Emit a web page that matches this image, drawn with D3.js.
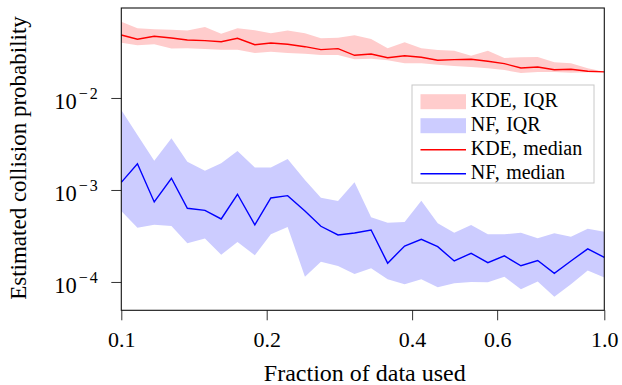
<!DOCTYPE html>
<html>
<head>
<meta charset="utf-8">
<script src="https://cdn.jsdelivr.net/npm/d3@7"></script>
<style>
  body { margin: 0; background: #fff; }
  svg { display: block; font-family: 'Liberation Serif', 'Times New Roman', serif; }
</style>
</head>
<body>
<div id="chart"></div>
<script>
// ---------- DATA ----------
const fraction = [0.1, 0.108, 0.117, 0.127, 0.137, 0.149, 0.161, 0.174, 0.189, 0.204,
  0.221, 0.24, 0.259, 0.281, 0.304, 0.329, 0.356, 0.386, 0.418, 0.452,
  0.489, 0.53, 0.574, 0.621, 0.672, 0.728, 0.788, 0.853, 0.924, 1.0];

const kdeMedian = [0.0484, 0.0435, 0.0469, 0.0449, 0.0427, 0.042, 0.0409, 0.0446, 0.0379, 0.0396,
  0.0384, 0.0361, 0.0335, 0.0344, 0.0291, 0.0301, 0.0274, 0.0288, 0.0277, 0.0257,
  0.0261, 0.0264, 0.0251, 0.0236, 0.0212, 0.0217, 0.0203, 0.0205, 0.0195, 0.0192];
const kdeQ3 = [0.0675, 0.0573, 0.0558, 0.0552, 0.054, 0.0592, 0.05, 0.0573, 0.0545, 0.0505,
  0.054, 0.0505, 0.0446, 0.0452, 0.0481, 0.0438, 0.0347, 0.0403, 0.0347, 0.0333,
  0.0327, 0.0288, 0.0327, 0.0272, 0.0277, 0.0279, 0.0244, 0.0238, 0.021, 0.0193];
const kdeQ1 = [0.0399, 0.0374, 0.0384, 0.0344, 0.0347, 0.0341, 0.0335, 0.0335, 0.0308, 0.0318,
  0.0308, 0.0303, 0.0293, 0.0293, 0.0264, 0.0267, 0.0257, 0.0238, 0.0238, 0.0229,
  0.0223, 0.0217, 0.021, 0.0201, 0.0187, 0.0192, 0.0192, 0.0188, 0.019, 0.0191];

const nfMedian = [1.21e-3, 1.93e-3, 7.41e-4, 1.34e-3, 6.32e-4, 6.01e-4, 4.84e-4, 8.98e-4, 4.17e-4, 8.18e-4,
  8.67e-4, 5.91e-4, 4.03e-4, 3.24e-4, 3.41e-4, 3.67e-4, 1.6e-4, 2.46e-4, 2.91e-4, 2.42e-4,
  1.69e-4, 2.05e-4, 1.62e-4, 1.92e-4, 1.5e-4, 1.71e-4, 1.24e-4, 1.69e-4, 2.29e-4, 1.85e-4];
const nfQ3 = [7.41e-3, 3.96e-3, 2.08e-3, 3.65e-3, 2.03e-3, 1.62e-3, 1.95e-3, 2.65e-3, 1.75e-3, 1.75e-3,
  2.17e-3, 1.28e-3, 8.24e-4, 7.59e-4, 1.21e-3, 5.05e-4, 4.41e-4, 4.49e-4, 7.65e-4, 4.35e-4,
  3.43e-4, 4.17e-4, 3.3e-4, 3.3e-4, 3.43e-4, 2.99e-4, 3.38e-4, 3.11e-4, 3.8e-4, 3.52e-4];
const nfQ1 = [5.91e-4, 3.89e-4, 4.2e-4, 4.06e-4, 2.64e-4, 2.96e-4, 1.98e-4, 2.72e-4, 1.95e-4, 3.3e-4,
  3.96e-4, 1.14e-4, 1.66e-4, 1.49e-4, 1.22e-4, 1.41e-4, 1.07e-4, 9.44e-5, 1.07e-4, 8.75e-5,
  9.68e-5, 1.0e-4, 9.93e-5, 1.14e-4, 8.33e-5, 1.01e-4, 6.92e-5, 9.44e-5, 1.33e-4, 1.12e-4];

const xTicks = [0.1, 0.2, 0.4, 0.6, 1.0];
const xTickLabels = ['0.1', '0.2', '0.4', '0.6', '1.0'];
const yTicks = [1e-4, 1e-3, 1e-2];
const yTickExps = ['\u22124', '\u22123', '\u22122'];

const legendItems = [
  { label: 'KDE, IQR', type: 'band', color: '#ffcccc' },
  { label: 'NF, IQR', type: 'band', color: '#ccccff' },
  { label: 'KDE, median', type: 'line', color: '#ff0000' },
  { label: 'NF, median', type: 'line', color: '#0000ff' },
];

// ---------- SVG ----------
const width = 622, height = 385;
const margin = { left: 121.3, right: 17.7, top: 8, bottom: 74.7 };
const plotW = width - margin.left - margin.right;
const plotH = height - margin.top - margin.bottom;

const svg = d3.select('#chart').append('svg')
  .attr('width', width)
  .attr('height', height);

const x = d3.scaleLog().domain([0.1, 1.0]).range([0, plotW]);
const y = d3.scaleLog().domain([Math.pow(10, -4.308), Math.pow(10, -1.022)]).range([plotH, 0]);

const g = svg.append('g')
  .attr('transform', `translate(${margin.left}, ${margin.top})`);

// ---------- BANDS ----------
function rows(lo, hi) {
  return fraction.map((f, i) => ({ f: f, lo: lo[i], hi: hi[i] }));
}
const band = d3.area()
  .x(d => x(d.f))
  .y0(d => y(d.lo))
  .y1(d => y(d.hi));

g.append('path')
  .datum(rows(kdeQ1, kdeQ3))
  .attr('d', band)
  .attr('fill', '#ffcccc');

g.append('path')
  .datum(rows(nfQ1, nfQ3))
  .attr('d', band)
  .attr('fill', '#ccccff');

// ---------- LINES ----------
const line = d3.line()
  .x((d, i) => x(fraction[i]))
  .y(d => y(d));

g.append('path')
  .datum(kdeMedian)
  .attr('d', line)
  .attr('fill', 'none')
  .attr('stroke', '#ff0000')
  .attr('stroke-width', 1.4);

g.append('path')
  .datum(nfMedian)
  .attr('d', line)
  .attr('fill', 'none')
  .attr('stroke', '#0000ff')
  .attr('stroke-width', 1.4);

// ---------- AXES ----------
const xAxis = g.append('g')
  .attr('transform', `translate(0, ${plotH})`)
  .call(d3.axisBottom(x).tickValues(xTicks).tickSize(10).tickSizeOuter(0)
    .tickFormat((d, i) => xTickLabels[i]));
xAxis.select('.domain').remove();
xAxis.attr('font-family', null).attr('font-size', null);
xAxis.selectAll('line').attr('stroke', '#333');
xAxis.selectAll('text')
  .attr('y', 36.5)
  .attr('dy', null)
  .attr('fill', '#000')
  .style('font-size', '22px');

const yAxis = g.append('g')
  .call(d3.axisLeft(y).tickValues(yTicks).tickSize(10).tickSizeOuter(0).tickFormat(''));
yAxis.select('.domain').remove();
yAxis.selectAll('line').attr('stroke', '#333');

const yLab = g.selectAll('.ylab')
  .data(yTicks)
  .enter()
  .append('text')
  .attr('class', 'ylab')
  .attr('x', -21.5)
  .attr('y', d => y(d) + 11.5)
  .attr('text-anchor', 'end')
  .attr('fill', '#000');
yLab.append('tspan').style('font-size', '22.5px').text('10');
yLab.append('tspan')
  .attr('dx', 2)
  .attr('dy', -10)
  .style('font-size', '16px')
  .style('letter-spacing', '2px')
  .text((d, i) => yTickExps[i]);

// frame
g.append('rect')
  .attr('width', plotW)
  .attr('height', plotH)
  .attr('fill', 'none')
  .attr('stroke', '#111')
  .attr('stroke-width', 1.1);

// ---------- AXIS LABELS ----------
svg.append('text')
  .attr('x', margin.left + plotW / 2 + 2)
  .attr('y', 380.5)
  .attr('text-anchor', 'middle')
  .style('font-size', '24px')
  .text('Fraction of data used');

svg.append('text')
  .attr('transform', 'rotate(-90)')
  .attr('x', -158)
  .attr('y', 26)
  .attr('text-anchor', 'middle')
  .style('font-size', '23px')
  .text('Estimated collision probability');

// ---------- LEGEND ----------
const legend = svg.append('g').attr('transform', 'translate(412, 85)');
legend.append('rect')
  .attr('width', 182)
  .attr('height', 98)
  .attr('fill', '#fff')
  .attr('stroke', '#c8c8c8')
  .attr('stroke-width', 1);

const item = legend.selectAll('.item')
  .data(legendItems)
  .enter()
  .append('g')
  .attr('class', 'item')
  .attr('transform', (d, i) => `translate(0, ${16.7 + i * 24})`);

item.filter(d => d.type === 'band')
  .append('rect')
  .attr('x', 8.5)
  .attr('y', -7.5)
  .attr('width', 45.5)
  .attr('height', 15)
  .attr('fill', d => d.color);

item.filter(d => d.type === 'line')
  .append('line')
  .attr('x1', 8.5)
  .attr('x2', 54)
  .attr('stroke', d => d.color)
  .attr('stroke-width', 1.4);

item.append('text')
  .attr('x', 58.7)
  .attr('y', 5.5)
  .style('font-size', '20px')
  .style('word-spacing', '1.5px')
  .text(d => d.label);
</script>
</body>
</html>
